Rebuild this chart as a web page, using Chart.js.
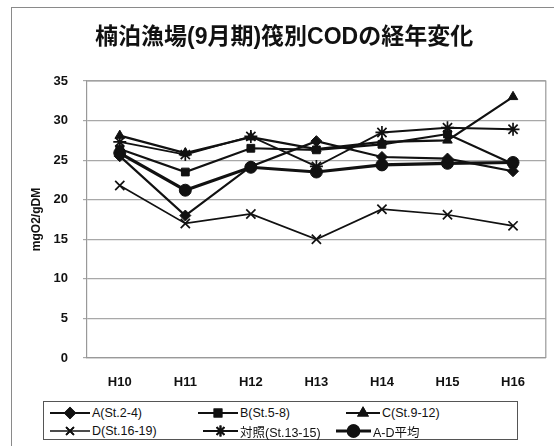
<!DOCTYPE html>
<html><head><meta charset="utf-8">
<script src="https://cdn.jsdelivr.net/npm/chart.js@4/dist/chart.umd.min.js"></script>
<style>
html,body{margin:0;padding:0;background:#fff;}
#wrap{position:relative;width:554px;height:446px;overflow:hidden;background:#fff;}
#frame{position:absolute;left:11px;top:7px;width:620px;height:520px;border:1.5px solid #8a8a8a;box-sizing:border-box;}
#c{position:absolute;left:0;top:0;}
#title{position:absolute;left:95px;top:22px;font:bold 23px "Liberation Sans","Noto Sans CJK JP",sans-serif;color:#111;white-space:nowrap;line-height:29px;}
#legend{position:absolute;left:43px;top:401px;width:475px;height:39px;border:1px solid #555;box-sizing:border-box;background:#fff;font:12.5px "Liberation Sans","Noto Sans CJK JP",sans-serif;color:#111;}
.li{position:absolute;display:flex;align-items:center;height:16px;white-space:nowrap;}
.li canvas{display:block;margin-right:2px;}
</style></head>
<body><div id="wrap"><div id="frame"></div><canvas id="c" width="554" height="446"></canvas><div id="title"></div><div id="legend"></div></div>
<script>
// ---- data ----
const categories = ['H10','H11','H12','H13','H14','H15','H16'];
const seriesNames = ['A(St.2-4)','B(St.5-8)','C(St.9-12)','D(St.16-19)','対照(St.13-15)','A-D平均'];
const valuesA   = [25.5, 18.0, 24.2, 27.4, 25.4, 25.2, 23.6];
const valuesB   = [26.4, 23.5, 26.5, 26.3, 27.0, 28.3, 24.5];
const valuesC   = [28.1, 25.9, 27.9, 26.4, 27.3, 27.5, 33.0];
const valuesD   = [21.8, 17.0, 18.2, 15.0, 18.8, 18.1, 16.7];
const valuesRef = [27.3, 25.7, 28.0, 24.2, 28.5, 29.1, 28.9];
const valuesAvg = [25.9, 21.2, 24.1, 23.5, 24.4, 24.6, 24.7];
const yMin = 0, yMax = 35, yStep = 5;
const chartTitle = '楠泊漁場(9月期)筏別CODの経年変化';
const yTitle = 'mgO2/gDM';

// ---- styles ----
const INK = '#111';
const FAMILY = '"Liberation Sans","Noto Sans CJK JP",sans-serif';
Chart.defaults.font.family = FAMILY;
document.getElementById('title').textContent = chartTitle;
const seriesValues = [valuesA, valuesB, valuesC, valuesD, valuesRef, valuesAvg];
const seriesStyle = [
  {pointStyle:'rectRot',  pointRadius:5.5, borderWidth:2.2},
  {pointStyle:'rect',     pointRadius:5.5, borderWidth:2.2},
  {pointStyle:'triangle', pointRadius:5.5, borderWidth:2.2},
  {pointStyle:'crossRot', pointRadius:6.5, borderWidth:1.7},
  {pointStyle:'star',     pointRadius:6.5, borderWidth:1.9},
  {pointStyle:'circle',   pointRadius:6,   borderWidth:3.2}
];
const legendPos = [[49,404],[197,404],[345,404],[49,422],[202,422],[335,422]];
const legendLineW = [40,40,34,40,35,35];

const datasets = seriesNames.map((name,i)=>({
  label:name,
  data:seriesValues[i],
  borderColor:INK,
  backgroundColor:INK,
  pointBackgroundColor:INK,
  pointBorderColor:INK,
  pointBorderWidth: (seriesStyle[i].pointStyle==='crossRot'||seriesStyle[i].pointStyle==='star') ? 1.7 : 1,
  borderWidth:seriesStyle[i].borderWidth,
  pointStyle:seriesStyle[i].pointStyle,
  pointRadius:seriesStyle[i].pointRadius,
  tension:0
}));

const areaFrame = {
  id:'areaFrame',
  afterDraw(chart){
    const {ctx, chartArea:a} = chart;
    ctx.save();
    ctx.strokeStyle = '#9a9a9a';
    ctx.lineWidth = 1.2;
    ctx.beginPath();
    ctx.moveTo(a.left, a.top); ctx.lineTo(a.right, a.top); ctx.lineTo(a.right, a.bottom);
    ctx.stroke();
    ctx.restore();
  }
};

new Chart(document.getElementById('c'), {
  type:'line',
  data:{labels:categories, datasets},
  options:{
    responsive:false, animation:false, devicePixelRatio:1,
    layout:{padding:{left:0,right:6,top:81,bottom:0}},
    plugins:{
      legend:{display:false},
      tooltip:{enabled:false},
      title:{display:false}
    },
    scales:{
      x:{offset:true,
        grid:{display:false, drawTicks:false},
        border:{color:'#999', width:1.2},
        ticks:{padding:17, color:INK, font:{size:13, weight:'bold'}},
        afterFit(s){ s.height = 88; }
      },
      y:{min:yMin, max:yMax,
        ticks:{stepSize:yStep, padding:15, color:INK, font:{size:13, weight:'bold'}},
        grid:{color:'#a8a8a8', lineWidth:1.2, tickLength:4},
        border:{color:'#999', width:1.2},
        title:{display:true, text:yTitle, color:INK, font:{size:12, weight:'bold'}, padding:{top:29,bottom:0}},
        afterFit(s){ s.width = 87; }
      }
    }
  },
  plugins:[areaFrame]
});

// ---- legend ----
const leg = document.getElementById('legend');
seriesNames.forEach((name,i)=>{
  const item = document.createElement('div');
  item.className = 'li';
  item.style.left = (legendPos[i][0]-43)+'px';
  item.style.top = (legendPos[i][1]-401)+'px';
  const w = legendLineW[i];
  const cv = document.createElement('canvas');
  cv.width = w; cv.height = 16;
  const g = cv.getContext('2d');
  g.strokeStyle = INK; g.fillStyle = INK;
  g.lineWidth = seriesStyle[i].borderWidth;
  g.beginPath(); g.moveTo(0,8); g.lineTo(w,8); g.stroke();
  const ps = seriesStyle[i].pointStyle;
  Chart.helpers.drawPoint(g, {pointStyle:ps, radius:seriesStyle[i].pointRadius*0.85, borderWidth:(ps==='crossRot'||ps==='star')?1.5:1, rotation:0}, w/2, 8);
  g.fill(); g.stroke();
  item.appendChild(cv);
  const t = document.createElement('span');
  t.textContent = name;
  item.appendChild(t);
  leg.appendChild(item);
});
</script>
</body></html>
